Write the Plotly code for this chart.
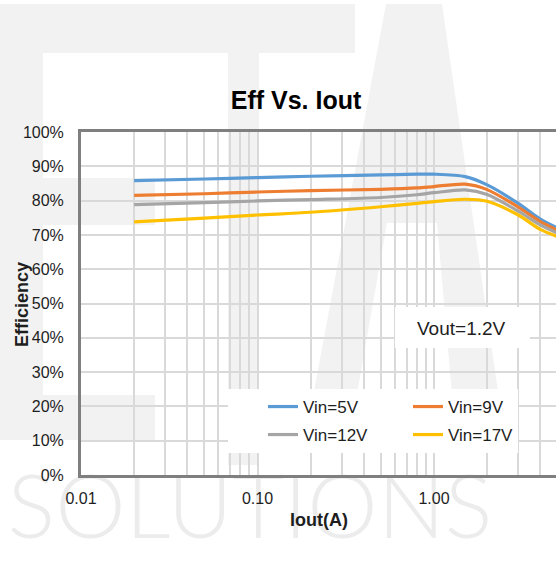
import plotly.graph_objects as go

# ---------------- data ----------------
iout = [0.02, 0.05, 0.1, 0.2, 0.5, 0.8, 1.0, 1.5, 2, 3, 4, 5]
eff_5v = [85.8, 86.3, 86.7, 87.1, 87.5, 87.7, 87.7, 87.0, 84.6, 79.2, 74.6, 72.0]
eff_9v = [81.5, 82.0, 82.5, 82.9, 83.3, 83.7, 84.1, 84.8, 83.2, 78.1, 73.9, 71.4]
eff_12v = [78.8, 79.4, 79.9, 80.3, 80.9, 81.7, 82.3, 83.1, 81.8, 76.9, 72.9, 70.5]
eff_17v = [73.8, 74.9, 75.8, 76.6, 78.2, 79.2, 79.7, 80.4, 79.8, 75.8, 71.6, 69.5]
series_names = ["Vin=5V", "Vin=9V", "Vin=12V", "Vin=17V"]
series_values = [eff_5v, eff_9v, eff_12v, eff_17v]
series_colors = ["#5B9BD5", "#ED7D31", "#A5A5A5", "#FFC000"]
series_legend = ["legend", "legend", "legend2", "legend2"]
x_tick_vals = [0.01, 0.1, 1]
x_tick_text = ["0.01", "0.10", "1.00"]
y_tick_vals = list(range(0, 101, 10))
y_tick_text = [f"{v}%" for v in y_tick_vals]
watermark_word = "SOLUTIONS"

# ---------------- geometry (pixels of the 556x562 page) ----------------
W, H = 556, 562
L, T, B, R = 81, 132, 475, 556
X_LOG_MAX = 0.691


def px(x):
    return x / W


def py(y):
    return 1 - y / H


TXT = "#1e1e1e"
FONT = "Liberation Sans"
WM = "#f2f2f2"

fig = go.Figure()

# watermark word on a hidden full-page subplot (drawn beneath the chart subplot)
fig.add_trace(go.Scatter(
    x=[250], y=[516], mode="text", text=[watermark_word],
    showlegend=False, hoverinfo="skip", xaxis="x", yaxis="y",
    textfont=dict(family="Lato", size=89, color="#ececec", weight=300),
))

for name, vals, col, lg in zip(series_names, series_values, series_colors, series_legend):
    fig.add_trace(go.Scatter(
        x=iout, y=vals, name=name, mode="lines",
        line=dict(color=col, width=3.2, shape="spline", smoothing=0.8),
        legend=lg, xaxis="x2", yaxis="y2",
    ))

shapes = []


def rect(x0, y0, x1, y1, color=WM):
    shapes.append(dict(type="rect", xref="paper", yref="paper", layer="below",
                       x0=px(x0), x1=px(x1), y0=py(y0), y1=py(y1),
                       fillcolor=color, line=dict(width=0)))


def poly(pts, color=WM):
    path = "M " + " L ".join(f"{px(a)},{py(b)}" for a, b in pts) + " Z"
    shapes.append(dict(type="path", xref="paper", yref="paper", layer="below",
                       path=path, fillcolor=color, line=dict(width=0)))


# watermark "ETA"
rect(0, 4, 43, 440)
rect(0, 4, 355, 53)
rect(0, 178, 155, 225)
rect(0, 395, 155, 440)
rect(228, 53, 259, 465)
poly([(386, 4), (442, 4), (505, 440), (305, 440)])
poly([(387, 223), (437, 223), (456, 440), (349, 440)], color="#ffffff")

# Vout text box (white)
shapes.append(dict(type="rect", xref="paper", yref="paper", layer="above",
                   x0=px(395), x1=px(530), y0=py(307), y1=py(348),
                   fillcolor="#ffffff", line=dict(width=0)))

annotations = [
    dict(text="Vout=1.2V", xref="paper", yref="paper", x=px(461), y=py(329),
         showarrow=False, xanchor="center", yanchor="middle",
         font=dict(family=FONT, size=19, color=TXT)),
    dict(text="<b>Efficiency</b>", xref="paper", yref="paper", x=px(22), y=py(305),
         showarrow=False, xanchor="center", yanchor="middle", textangle=-90,
         font=dict(family=FONT, size=18, color=TXT)),
    dict(text="<b>Iout(A)</b>", xref="paper", yref="paper", x=px(319), y=py(520),
         showarrow=False, xanchor="center", yanchor="middle",
         font=dict(family=FONT, size=18, color=TXT)),
]

legend_common = dict(orientation="h", bgcolor="#ffffff", borderwidth=0,
                     xref="container", yref="container",
                     xanchor="left", yanchor="top", entrywidth=65,
                     indentation=35, tracegroupgap=0,
                     font=dict(family=FONT, size=17, color=TXT))

fig.update_layout(
    width=W, height=H,
    margin=dict(l=0, r=0, t=0, b=0, pad=0, autoexpand=False),
    paper_bgcolor="#ffffff",
    plot_bgcolor="rgba(0,0,0,0)",
    title=dict(text="<b>Eff Vs. Iout</b>", x=296 / W, y=1 - 100 / H,
               xanchor="center", yanchor="middle",
               font=dict(family=FONT, size=25, color="#000000")),
    # hidden page-sized axes for the watermark word
    xaxis=dict(domain=[0, 1], range=[0, W], visible=False, fixedrange=True),
    yaxis=dict(domain=[0, 1], range=[H, 0], visible=False, fixedrange=True),
    # chart axes
    xaxis2=dict(domain=[px(L), px(R)], anchor="y2", type="log", range=[-2, X_LOG_MAX],
                tickvals=x_tick_vals, ticktext=x_tick_text,
                showgrid=True, gridcolor="#d9d9d9", gridwidth=1.5,
                minor=dict(dtick="D1", showgrid=True, gridcolor="#d9d9d9", gridwidth=1.5),
                showline=True, linecolor="#7f7f7f", linewidth=3, mirror=True,
                ticks="", ticklabelstandoff=7, zeroline=False, automargin=False,
                tickfont=dict(family=FONT, size=16, color=TXT)),
    yaxis2=dict(domain=[py(B), py(T)], anchor="x2", range=[0, 100],
                tickvals=y_tick_vals, ticktext=y_tick_text,
                showgrid=True, gridcolor="#d9d9d9", gridwidth=1.5,
                showline=True, linecolor="#7f7f7f", linewidth=3,
                ticks="", ticklabelstandoff=11, zeroline=False, automargin=False,
                tickfont=dict(family=FONT, size=16, color=TXT)),
    legend=dict(x=228 / W, y=1 - 389 / H, **legend_common),
    legend2=dict(x=228 / W, y=1 - 417 / H, **legend_common),
    showlegend=True,
    shapes=shapes,
    annotations=annotations,
)

fig.write_html("out.html", config={"displayModeBar": False},
               post_script="document.body.style.margin='0';")
